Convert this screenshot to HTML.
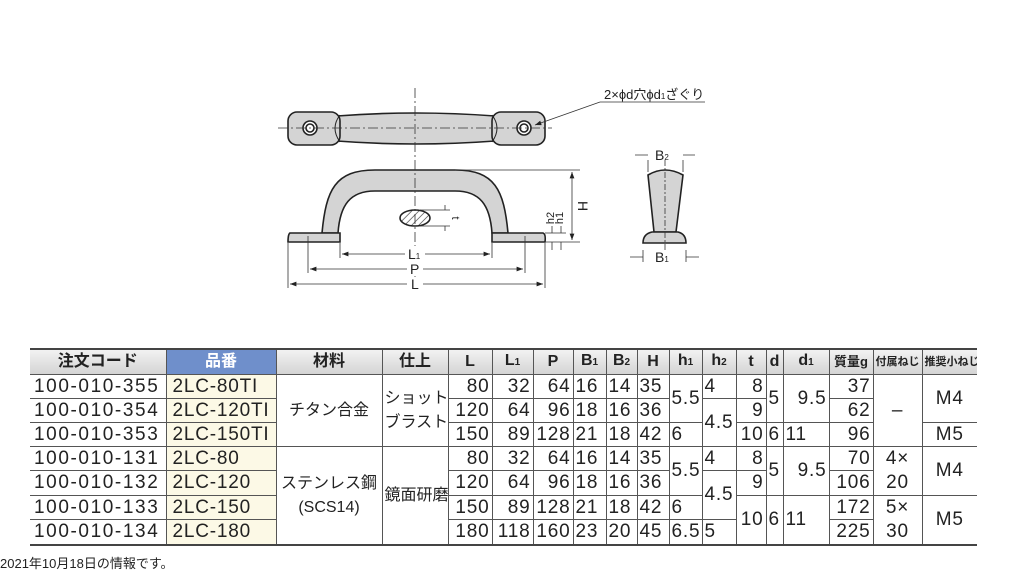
<!DOCTYPE html>
<html><head><meta charset="utf-8">
<style>
body{margin:0;width:1024px;height:568px;background:#fff;position:relative;overflow:hidden;font-family:"Liberation Sans","Noto Sans CJK JP",sans-serif;color:#222}
svg{position:absolute;left:0;top:0}
table{position:absolute;left:30px;top:348px;border-collapse:collapse;table-layout:fixed;width:947px}
td,th{border:1px solid #555;padding:0 2px;height:23px;line-height:22px;font-size:19px;font-weight:normal;white-space:nowrap;overflow:hidden;letter-spacing:0.8px}
th{background:linear-gradient(#f2f2f2,#d4d4d4);font-size:16px;text-align:center;height:24px;font-weight:bold;letter-spacing:0}
th.b{background:#6f8fcb;color:#fff}
tr>*:first-child{border-left:none}
tr>*:last-child{border-right:none}
table{border-top:2px solid #444;border-bottom:2px solid #444}
.c{background:#fcf9e6;text-align:left;padding-left:6px}
.r{text-align:right}.l{text-align:left}.m{text-align:center}
.code{text-align:left;padding-left:4px;letter-spacing:1.6px}
.j{font-size:16px;line-height:23px;letter-spacing:0}
sub{font-size:10px;vertical-align:baseline}
#foot{position:absolute;left:0;top:553px;font-size:13px}
</style></head><body>
<svg width="1024" height="340" viewBox="0 0 1024 340">
<defs>
<pattern id="h" width="5" height="5" patternUnits="userSpaceOnUse" patternTransform="rotate(45)"><line x1="0" y1="0" x2="0" y2="5" stroke="#333" stroke-width="1.3"/></pattern>
<marker id="a" markerWidth="8" markerHeight="6" refX="8" refY="3" orient="auto"><path d="M0,0 L8,3 L0,6z" fill="#222"/></marker>
<marker id="s" markerWidth="8" markerHeight="6" refX="0" refY="3" orient="auto"><path d="M8,0 L0,3 L8,6z" fill="#222"/></marker>
</defs>
<g stroke="#222" stroke-width="1.6" fill="#d4d4d4">
<path d="M337,116 Q415,110 495,116 L495,141 Q415,147 337,141z"/>
<rect x="288" y="112" width="52" height="33" rx="9"/>
<rect x="492" y="112" width="53" height="33" rx="9"/>
<path d="M340,115 Q330,128 340,142" fill="none" stroke-width="1"/>
<path d="M492,115 Q502,128 492,142" fill="none" stroke-width="1"/>
<circle cx="310" cy="128" r="7" fill="#fff"/><circle cx="310" cy="128" r="4" fill="#fff"/>
<circle cx="524" cy="128" r="7" fill="#fff"/><circle cx="524" cy="128" r="4" fill="#fff"/>
<path d="M322,233 C326,190 335,170 375,170 L455,170 C495,170 504,190 508,233 L492,233 C490,205 480,191 455,191 L375,191 C350,191 340,205 338,233z"/>
<path d="M290,233 L340,233 L340,242 L288,242 Q288,234 290,233z"/>
<path d="M492,233 L543,233 Q546,234 545,242 L492,242z"/>
<ellipse cx="415" cy="218" rx="15" ry="8" fill="url(#h)"/>
<path d="M648,175 Q665,165 683,175 L676,232 L654,232z"/>
<path d="M652,232 L678,232 Q686,234 686,243 L643,243 Q643,234 652,232z"/>
</g>
<g stroke="#333" stroke-width="0.8" fill="none">
<path d="M278,128 H552" stroke-dasharray="10,3,2,3"/>
<path d="M415,88 V286" stroke-dasharray="10,3,2,3"/>
<path d="M665,160 V250" stroke-dasharray="6,2,2,2"/>
<path d="M600,102 H705"/><path d="M600,102 L535,125" marker-end="url(#a)"/>
<path d="M288,243 V288 M545,243 V288 M308,236 V273 M525,236 V273 M340,243 V258 M492,243 V258"/>
<path d="M290,284 H543" marker-start="url(#s)" marker-end="url(#a)"/>
<path d="M310,269 H523" marker-start="url(#s)" marker-end="url(#a)"/>
<path d="M342,254 H490" marker-start="url(#s)" marker-end="url(#a)"/>
<path d="M455,170 H580 M545,242 H580 M545,233 H566"/>
<path d="M572,172 V240" marker-start="url(#s)" marker-end="url(#a)"/>
<path d="M561,226 V233 M561,242 V250 M552,226 V233 M552,242 V250"/>
<path d="M445,205 V210 M445,226 V231 M420,210 H450 M420,226 H450"/>
<path d="M648,160 V172 M683,160 V172 M635,155 H648 M695,155 H683"/>
<path d="M643,250 V262 M686,250 V262 M630,257 H643 M699,257 H686"/>
</g>
<g font-size="13" fill="#222" font-family="Liberation Sans,Noto Sans CJK JP,sans-serif">
<text x="604" y="99">2×ϕd穴ϕd<tspan font-size="8">1</tspan>ざぐり</text>
<rect x="405" y="246" width="20" height="14" fill="#fff"/><text x="408" y="259" font-size="14">L<tspan font-size="8">1</tspan></text>
<rect x="407" y="262" width="16" height="14" fill="#fff"/><text x="410" y="274" font-size="14">P</text>
<rect x="407" y="277" width="16" height="14" fill="#fff"/><text x="411" y="289" font-size="14">L</text>
<text x="578" y="206" font-size="14" transform="rotate(90 578 206)" text-anchor="middle">H</text>
<text x="554" y="218" font-size="11" transform="rotate(-90 554 218)" text-anchor="middle">h2</text>
<text x="563" y="218" font-size="11" transform="rotate(-90 563 218)" text-anchor="middle">h1</text>
<text x="452" y="218" font-size="11" transform="rotate(90 452 218)" text-anchor="middle">t</text>
<text x="655" y="160" font-size="14">B<tspan font-size="8">2</tspan></text>
<text x="655" y="262" font-size="14">B<tspan font-size="8">1</tspan></text>
</g>
</svg>
<table>
<colgroup><col style="width:136px"><col style="width:110px"><col style="width:106px"><col style="width:66px"><col style="width:44px"><col style="width:41px"><col style="width:40px"><col style="width:33px"><col style="width:31px"><col style="width:32px"><col style="width:33px"><col style="width:34px"><col style="width:30px"><col style="width:17px"><col style="width:46px"><col style="width:44px"><col style="width:49px"><col style="width:55px"></colgroup>
<tr><th>注文コード</th><th class="b">品番</th><th>材料</th><th>仕上</th><th>L</th><th>L<sub>1</sub></th><th>P</th><th>B<sub>1</sub></th><th>B<sub>2</sub></th><th>H</th><th>h<sub>1</sub></th><th>h<sub>2</sub></th><th>t</th><th>d</th><th>d<sub>1</sub></th><th style="font-size:13px">質量g</th><th style="font-size:11px">付属ねじ</th><th style="font-size:11px">推奨小ねじ</th></tr>
<tr><td class="code">100-010-355</td><td class="c">2LC-80TI</td><td rowspan="3" class="m j">チタン合金</td><td rowspan="3" class="m j" style="line-height:24px">ショット<br>ブラスト</td><td class="r">80</td><td class="r">32</td><td class="r">64</td><td>16</td><td>14</td><td>35</td><td rowspan="2" class="l">5.5</td><td class="l">4</td><td class="r">8</td><td rowspan="2" class="l">5</td><td rowspan="2" class="r">9.5</td><td class="r">37</td><td rowspan="3" class="m">–</td><td rowspan="2" class="m">M4</td></tr>
<tr><td class="code">100-010-354</td><td class="c">2LC-120TI</td><td class="r">120</td><td class="r">64</td><td class="r">96</td><td>18</td><td>16</td><td>36</td><td rowspan="2" class="l">4.5</td><td class="r">9</td><td class="r">62</td></tr>
<tr><td class="code">100-010-353</td><td class="c">2LC-150TI</td><td class="r">150</td><td class="r">89</td><td class="r">128</td><td>21</td><td>18</td><td>42</td><td class="l">6</td><td class="r">10</td><td class="l">6</td><td class="l">11</td><td class="r">96</td><td class="m">M5</td></tr>
<tr><td class="code">100-010-131</td><td class="c">2LC-80</td><td rowspan="4" class="m j" style="line-height:24px">ステンレス鋼<br>(SCS14)</td><td rowspan="4" class="m j">鏡面研磨</td><td class="r">80</td><td class="r">32</td><td class="r">64</td><td>16</td><td>14</td><td>35</td><td rowspan="2" class="l">5.5</td><td class="l">4</td><td class="r">8</td><td rowspan="2" class="l">5</td><td rowspan="2" class="r">9.5</td><td class="r">70</td><td rowspan="2" class="m" style="line-height:24px">4×<br>20</td><td rowspan="2" class="m">M4</td></tr>
<tr><td class="code">100-010-132</td><td class="c">2LC-120</td><td class="r">120</td><td class="r">64</td><td class="r">96</td><td>18</td><td>16</td><td>36</td><td rowspan="2" class="l">4.5</td><td class="r">9</td><td class="r">106</td></tr>
<tr><td class="code">100-010-133</td><td class="c">2LC-150</td><td class="r">150</td><td class="r">89</td><td class="r">128</td><td>21</td><td>18</td><td>42</td><td class="l">6</td><td rowspan="2" class="r">10</td><td rowspan="2" class="l">6</td><td rowspan="2" class="l">11</td><td class="r">172</td><td rowspan="2" class="m" style="line-height:24px">5×<br>30</td><td rowspan="2" class="m">M5</td></tr>
<tr><td class="code">100-010-134</td><td class="c">2LC-180</td><td class="r">180</td><td class="r">118</td><td class="r">160</td><td>23</td><td>20</td><td>45</td><td class="l">6.5</td><td class="l">5</td><td class="r">225</td></tr>
</table>
<div id="foot">2021年10月18日の情報です。</div>
</body></html>
